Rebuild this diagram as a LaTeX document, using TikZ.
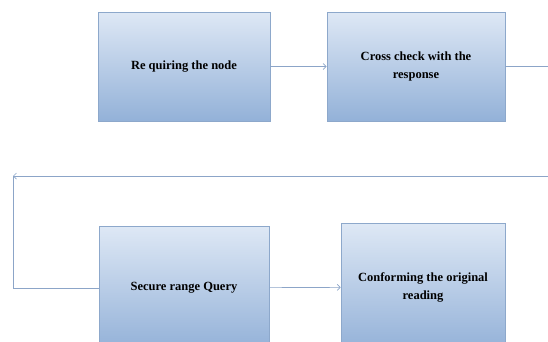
\documentclass[tikz,border=0pt]{standalone}
\usepackage{fontspec}
\setmainfont{Liberation Serif}
\usetikzlibrary{arrows.meta}

\definecolor{boxtop}{HTML}{DEE8F5}
\definecolor{boxbot}{HTML}{93B1D8}
\definecolor{boxline}{HTML}{8DA8CB}
\definecolor{flowline}{HTML}{8CA5C8}

\tikzset{
  stage/.style={draw=boxline, line width=0.7pt, top color=boxtop, bottom color=boxbot,
    align=center, inner sep=0pt, font=\bfseries\fontsize{12.5}{18}\selectfont},
  flow/.style={draw=flowline, line width=0.7pt},
  tip/.style={-{Straight Barb[length=3pt,width=6pt]}},
}

\begin{document}
\begin{tikzpicture}[x=1pt,y=1pt,yscale=-1]
\useasboundingbox (0,0) rectangle (548,341);
\clip (0,0) rectangle (548,341);

% Stages
\node (query) [stage, minimum width=172pt, minimum height=109pt] at (184,66.5) {Re quiring the node};
\node (check) [stage, minimum width=178pt, minimum height=109pt] at (416,66.5) {Cross check with the\\response};
\node (secure) [stage, minimum width=170pt, minimum height=124pt] at (184,288) {Secure range Query};
\node (confirm) [stage, minimum width=164pt, minimum height=128pt] at (423,287) {Conforming the original\\reading};

% Return path
\coordinate (outR) at (548,66.5);
\coordinate (backR) at (548,176);
\coordinate (backL) at (13,176);

% Connections
\draw [flow, tip] (query) -- (check);
\draw [flow] (check) -- (outR);
\draw [flow, tip] (backR) -- (backL);
\draw [flow] (backL) |- (secure.west);
\draw [flow, tip] (secure) -- (confirm);

\end{tikzpicture}
\end{document}
